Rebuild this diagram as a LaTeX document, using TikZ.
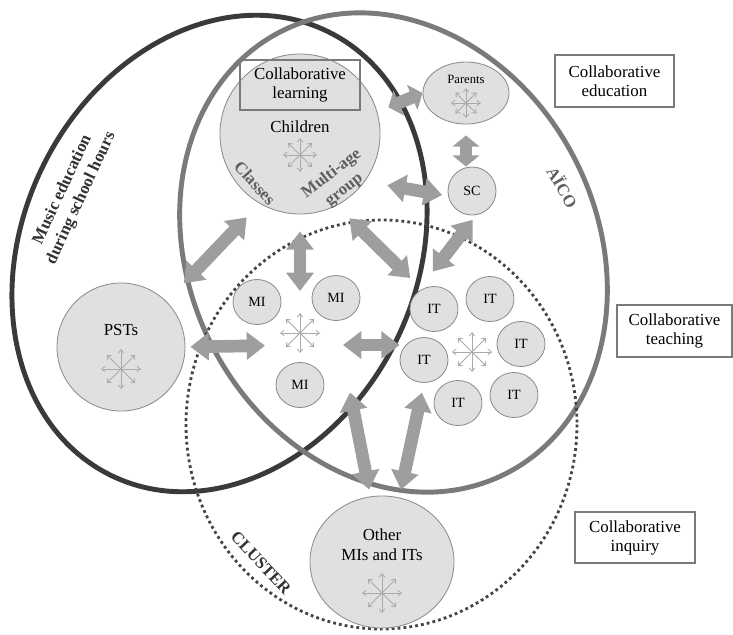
\documentclass[tikz,border=0pt]{standalone}
\usepackage{fontspec}
\setmainfont{Liberation Serif}
\usepackage{tikz}
\usetikzlibrary{arrows.meta, positioning, calc, shapes.geometric}

\definecolor{ringdark}{RGB}{58,58,58}
\definecolor{ringgray}{RGB}{122,122,122}
\definecolor{dotgray}{RGB}{68,68,68}
\definecolor{blobfill}{RGB}{224,224,224}
\definecolor{blobline}{RGB}{140,140,140}
\definecolor{arrowfill}{RGB}{158,158,158}
\definecolor{spreadgray}{RGB}{170,170,170}
\definecolor{tagdark}{RGB}{51,51,51}
\definecolor{taggray}{RGB}{95,95,95}

\begin{document}
\begin{tikzpicture}[x=0.025cm, y=-0.025cm,
    blob/.style={draw=blobline, fill=blobfill, line width=0.6pt, inner sep=0pt},
    small/.style={blob, ellipse, minimum width=1.2cm, minimum height=1.125cm, font=\fontsize{10}{12}\selectfont},
    collab/.style={draw=ringgray, line width=2pt, align=center, inner sep=0pt, font=\fontsize{12}{13.5}\selectfont},
    twoway/.style={arrowfill, line width=9pt, arrows={Triangle[length=#1,width=19pt]-Triangle[length=#1,width=19pt]}},
    twoway/.default=13pt,
    tag/.style={font=\fontsize{12}{14.5}\selectfont\bfseries, align=center},
    spread/.pic={\foreach \a in {0,45,...,315} \draw[spreadgray, line width=0.6pt, -{Straight Barb[length=2.5pt,width=4pt]}] (0,0) -- (\a:#1);}
]
    \useasboundingbox (0,0) rectangle (733,634);

    % the three settings
    \draw[ringdark, line width=3.5pt, rotate around={-26:(219.5,253.5)}] (219.5,253.5) ellipse [x radius=197, y radius=247];
    \draw[ringgray, line width=3.5pt, rotate around={27:(393.5,252.5)}] (393.5,252.5) ellipse [x radius=204, y radius=248];
    \draw[dotgray, line width=2pt, dash pattern=on 2pt off 2.2pt] (381.5,424.5) ellipse [x radius=195.5, y radius=204.5];

    % groups
    \node (kids) [blob, circle, minimum size=4cm] at (300,134) {};
    \node (parents) [blob, ellipse, minimum width=2.15cm, minimum height=1.55cm] at (466,93) {};
    \node (sc) [blob, circle, minimum size=1.2cm, font=\fontsize{10}{12}\selectfont] at (472,191) {SC};
    \node (psts) [blob, circle, minimum size=3.2cm] at (121,347) {};
    \node (other) [blob, ellipse, minimum width=3.6cm, minimum height=3.3cm] at (382,562) {};

    \node (mi1) [small] at (257,302) {MI};
    \node (mi2) [small] at (336,298) {MI};
    \node (mi3) [small] at (300,385) {MI};

    \node (ita) [small] at (434,309) {IT};
    \node (itb) [small] at (490,299) {IT};
    \node (itc) [small] at (521,344) {IT};
    \node (itd) [small] at (424,360) {IT};
    \node (ite) [small] at (458,403) {IT};
    \node (itf) [small] at (514,395) {IT};

    \coordinate (mihub) at (300,345);
    \coordinate (ithub) at (472,352);

    % texts inside the groups
    \node (kidstext) [font=\fontsize{12}{14}\selectfont] at ([yshift=0.175cm]kids) {Children};
    \node (parentstext) [font=\fontsize{9}{11}\selectfont] at ([yshift=0.35cm]parents) {Parents};
    \node (pststext) [font=\fontsize{12}{14}\selectfont] at ([yshift=0.425cm]psts) {PSTs};
    \node (othertext) [font=\fontsize{12}{14}\selectfont, align=center] at ([yshift=0.425cm]other) {Other\\MIs and ITs};

    \pic at ([yshift=-0.525cm]kids) {spread=17};
    \pic at ([yshift=-0.25cm]parents) {spread=15};
    \pic at ([yshift=-0.55cm]psts) {spread=20};
    \pic at ([yshift=-0.775cm]other) {spread=20};
    \pic at ([yshift=0.3cm]mihub) {spread=20};
    \pic at (ithub) {spread=20};

    % exchanges
    \draw[twoway, shorten <=0.625cm, shorten >=0.475cm] (psts.45) -- (kids.240);
    \draw[twoway, shorten <=0.125cm, shorten >=0.875cm] (psts.east) -- (mihub);
    \draw[twoway, shorten >=1.075cm] (mihub -| itd.west) -- (mihub);
    \draw[twoway, shorten <=0.425cm, shorten >=1.35cm] (kids.south) -- (mihub);
    \draw[twoway, shorten <=0.45cm, shorten >=0.4cm] (kids.297.5) -- (ita.122);
    \draw[twoway, shorten <=0.565cm, shorten >=0.15cm] (kids.324) -- (sc.192);
    \draw[twoway=8pt, shorten <=0.3cm] (kids.16) -- (parents.west);
    \draw[twoway=8pt, shorten <=0.275cm] (parents.south) -- (parents.south |- sc.north);
    \draw[twoway, shorten <=0.15cm, shorten >=0.7cm] (sc.280) -- (ita.140);
    \draw[twoway, shorten <=1.82cm, shorten >=0.175cm] (mi2.south) -- (other.100);
    \draw[twoway, shorten <=0.25cm, shorten >=0.2cm] (itd.south) -- (other.75);

    % kinds of collaboration
    \node (learnbox) [collab, minimum width=3cm, minimum height=1.25cm] at (300,85) {Collaborative\\learning};
    \node (edubox) [collab, fill=white, minimum width=2.975cm, minimum height=1.3cm] at (614.5,81) {Collaborative\\education};
    \node (teachbox) [collab, fill=white, minimum width=2.875cm, minimum height=1.3cm] at (674.5,331) {Collaborative\\teaching};
    \node (inqbox) [collab, fill=white, minimum width=3cm, minimum height=1.275cm] at (635,537.5) {Collaborative\\inquiry};

    % setting names
    \node (musictag) [tag, text=tagdark, rotate=65] at (72,194) {Music education\\during school hours};
    \node (aicotag) [tag, text=taggray, rotate=-60] at (563,187) {AÏCO};
    \node (clustertag) [tag, text=tagdark, rotate=-47] at (261,563) {CLUSTER};
    \node (classtag) [tag, text=taggray, rotate=-48] at (255,183) {Classes};
    \node (grouptag) [tag, text=taggray, rotate=38] at (338,182) {Multi-age\\group};
\end{tikzpicture}
\end{document}
